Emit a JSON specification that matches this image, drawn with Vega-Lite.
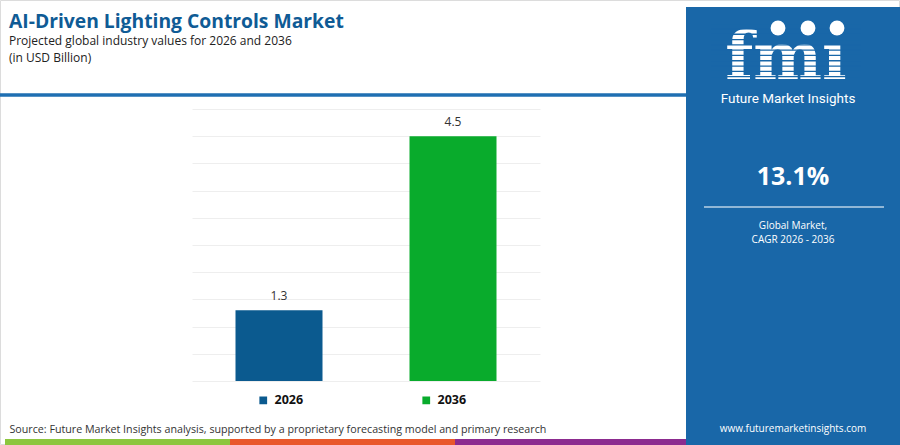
{
  "$schema": "https://vega.github.io/schema/vega-lite/v6.json",
  "width": 348,
  "height": 272,
  "autosize": {"type": "none"},
  "padding": {"left": 192, "top": 109, "right": 360, "bottom": 64},
  "background": "white",
  "title": {
    "text": "AI-Driven Lighting Controls Market",
    "subtitle": ["Projected global industry values for 2026 and 2036", "(in USD Billion)"],
    "anchor": "start",
    "frame": "group",
    "dx": -183,
    "offset": -116,
    "font": "Open Sans",
    "fontSize": 19.3,
    "fontWeight": "bold",
    "color": "#0f5b95",
    "subtitleFont": "Open Sans",
    "subtitleFontSize": 12,
    "subtitleColor": "#222222",
    "subtitlePadding": 4,
    "subtitleLineHeight": 17
  },
  "config": {
    "view": {"stroke": null},
    "font": "Open Sans"
  },
  "data": {
    "values": [
      {"year": "2026", "value": 1.3},
      {"year": "2036", "value": 4.5}
    ]
  },
  "layer": [
    {
      "data": {"values": [{}]},
      "mark": {"type": "rect", "fill": "transparent", "stroke": "#dcdcdc", "strokeWidth": 1},
      "encoding": {"x": {"value": -191.5}, "x2": {"value": 707.5}, "y": {"value": -108.5}, "y2": {"value": 335.5}}
    },
    {
      "data": {"values": [{}]},
      "mark": {"type": "rect", "fill": "#1967a8"},
      "encoding": {"x": {"value": 494}, "x2": {"value": 708}, "y": {"value": -102}, "y2": {"value": 336}}
    },
    {
      "data": {"values": [{}]},
      "mark": {"type": "rule", "color": "#1f6fb2", "strokeWidth": 3.5},
      "encoding": {"x": {"value": -192}, "x2": {"value": 494}, "y": {"value": -14}}
    },
    {
      "data": {"values": [{}]},
      "mark": {"type": "rect", "fill": "#8dc63f"},
      "encoding": {"x": {"value": -187}, "x2": {"value": 38}, "y": {"value": 330}, "y2": {"value": 336}}
    },
    {
      "data": {"values": [{}]},
      "mark": {"type": "rect", "fill": "#e9572b"},
      "encoding": {"x": {"value": 38}, "x2": {"value": 263}, "y": {"value": 330}, "y2": {"value": 336}}
    },
    {
      "data": {"values": [{}]},
      "mark": {"type": "rect", "fill": "#8c2b8f"},
      "encoding": {"x": {"value": 263}, "x2": {"value": 494}, "y": {"value": 330}, "y2": {"value": 336}}
    },
    {
      "data": {"values": [{}]},
      "mark": {"type": "text", "text": "fmı", "font": "DejaVu Serif", "fontWeight": "bold", "fontSize": 65, "color": "white", "align": "center", "baseline": "alphabetic"},
      "encoding": {"x": {"value": 594}, "y": {"value": -30}}
    },
    {
      "data": {"values": [{}]},
      "mark": {"type": "rule", "color": "#1967a8", "strokeWidth": 150, "strokeDash": [1.3, 4], "strokeCap": "butt"},
      "encoding": {"x": {"value": 594}, "y": {"value": -86}, "y2": {"value": -30}}
    },
    {
      "data": {"values": [{}]},
      "mark": {"type": "point", "filled": true, "color": "white", "opacity": 1, "size": 220},
      "encoding": {"x": {"value": 586}, "y": {"value": -81}}
    },
    {
      "data": {"values": [{}]},
      "mark": {"type": "point", "filled": true, "color": "white", "opacity": 1, "size": 220},
      "encoding": {"x": {"value": 616}, "y": {"value": -81}}
    },
    {
      "data": {"values": [{}]},
      "mark": {"type": "point", "filled": true, "color": "white", "opacity": 1, "size": 220},
      "encoding": {"x": {"value": 645}, "y": {"value": -81}}
    },
    {
      "data": {"values": [{}]},
      "mark": {"type": "text", "text": "Future Market Insights", "font": "Roboto", "fontSize": 13.5, "color": "white", "align": "center", "baseline": "middle"},
      "encoding": {"x": {"value": 596}, "y": {"value": -10}}
    },
    {
      "data": {"values": [{}]},
      "mark": {"type": "text", "text": "13.1%", "font": "Open Sans", "fontWeight": "bold", "fontSize": 25, "color": "white", "align": "center", "baseline": "middle"},
      "encoding": {"x": {"value": 601}, "y": {"value": 68}}
    },
    {
      "data": {"values": [{}]},
      "mark": {"type": "rule", "color": "white", "strokeWidth": 1.5, "opacity": 0.7},
      "encoding": {"x": {"value": 512}, "x2": {"value": 692}, "y": {"value": 98}}
    },
    {
      "data": {"values": [{}]},
      "mark": {"type": "text", "text": "Global Market,", "font": "Open Sans", "fontSize": 10, "color": "white", "align": "center", "baseline": "middle"},
      "encoding": {"x": {"value": 601}, "y": {"value": 117}}
    },
    {
      "data": {"values": [{}]},
      "mark": {"type": "text", "text": "CAGR 2026 - 2036", "font": "Open Sans", "fontSize": 10, "color": "white", "align": "center", "baseline": "middle"},
      "encoding": {"x": {"value": 601}, "y": {"value": 131}}
    },
    {
      "data": {"values": [{}]},
      "mark": {"type": "text", "text": "www.futuremarketinsights.com", "font": "Open Sans", "fontSize": 10, "color": "white", "align": "center", "baseline": "middle"},
      "encoding": {"x": {"value": 601}, "y": {"value": 320}}
    },
    {
      "mark": {"type": "bar"},
      "encoding": {
        "x": {
          "field": "year",
          "type": "nominal",
          "scale": {"paddingInner": 0.5, "paddingOuter": 0.25},
          "axis": {
            "labels": false,
            "ticks": false,
            "domain": false,
            "title": "Source: Future Market Insights analysis, supported by a proprietary forecasting model and primary research",
            "titleX": -183,
            "titleY": 48,
            "titleAlign": "left",
            "titleBaseline": "middle",
            "titleFont": "Open Sans",
            "titleFontSize": 10.7,
            "titleFontWeight": "normal",
            "titleColor": "#333333"
          }
        },
        "y": {
          "field": "value",
          "type": "quantitative",
          "scale": {"domain": [0, 5], "nice": false},
          "axis": {
            "tickCount": 10,
            "grid": true,
            "gridColor": "#eeeeee",
            "labels": false,
            "ticks": false,
            "domain": false,
            "title": null
          }
        },
        "color": {
          "field": "year",
          "type": "nominal",
          "scale": {"domain": ["2026", "2036"], "range": ["#0b5a8f", "#09ab2c"]},
          "legend": {
            "orient": "none",
            "legendX": 65,
            "legendY": 285,
            "direction": "horizontal",
            "title": null,
            "symbolType": "square",
            "symbolSize": 60,
            "symbolStrokeWidth": 0,
            "labelOffset": 5,
            "labelFont": "Open Sans",
            "labelFontSize": 12.5,
            "labelFontWeight": "bold",
            "labelColor": "#111111",
            "columnPadding": 116
          }
        }
      }
    },
    {
      "mark": {"type": "text", "baseline": "bottom", "dy": -7, "font": "Open Sans", "fontSize": 12, "color": "#333333"},
      "encoding": {
        "x": {"field": "year", "type": "nominal"},
        "y": {"field": "value", "type": "quantitative"},
        "text": {"field": "value", "type": "quantitative", "format": ".1f"}
      }
    }
  ]
}
